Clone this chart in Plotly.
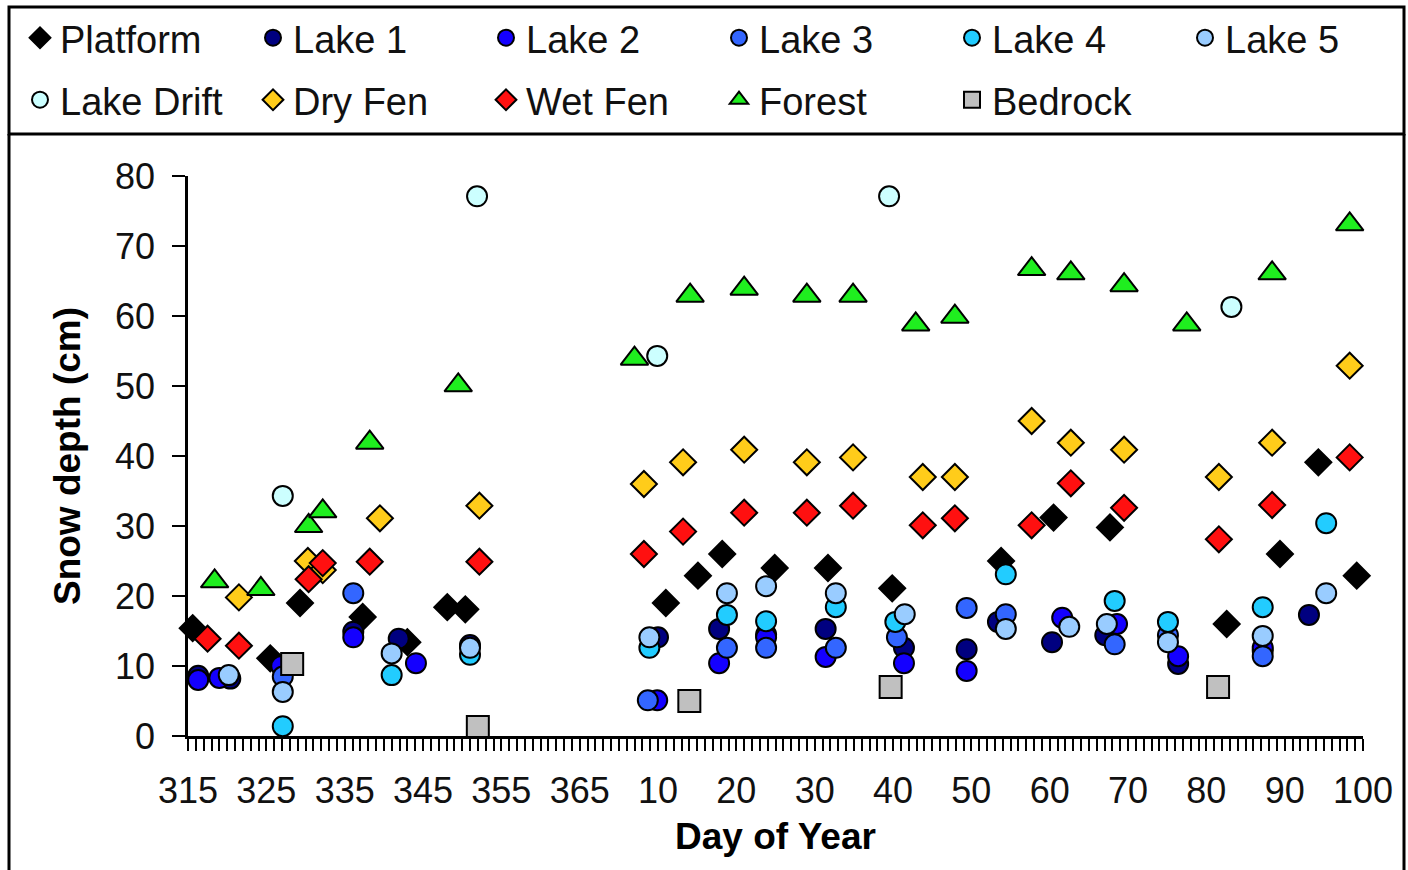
import plotly.graph_objects as go

# Day numbers run continuously across the new year: 366 = day 1 of the next year.
platform_x = [315.6, 325.5, 329.3, 337.3, 343.0, 348.1, 350.4, 376.0, 380.1, 383.2, 389.9, 396.7,
              404.9, 418.8, 425.5, 432.7, 447.6, 454.4, 459.3, 464.2]
platform_y = [15.4, 11.1, 19.0, 17.0, 13.4, 18.4, 18.1, 19.0, 22.9, 26.0, 24.0, 24.0,
              21.1, 25.0, 31.2, 29.8, 16.0, 26.0, 39.1, 22.9]

lake1_x = [316.3, 320.4, 326.9, 336.1, 341.9, 351.0, 375.0, 382.8, 388.8, 396.4, 406.4, 414.4,
           418.4, 425.3, 432.1, 441.4, 452.2, 458.1]
lake1_y = [8.6, 8.2, 10.2, 14.9, 13.9, 13.0, 14.1, 15.3, 14.5, 15.3, 12.6, 12.4,
           16.3, 13.4, 14.4, 10.3, 12.2, 17.3]

lake2_x = [316.3, 319.0, 326.9, 336.1, 344.1, 374.9, 382.8, 388.8, 396.4, 406.4, 414.4, 426.6,
           433.6, 441.4, 452.2]
lake2_y = [8.0, 8.3, 10.0, 14.1, 10.4, 5.1, 10.4, 14.1, 11.3, 10.4, 9.3, 16.9,
           16.0, 11.4, 12.6]

lake3_x = [327.1, 336.1, 373.7, 383.8, 388.8, 397.7, 405.5, 414.4, 419.4, 433.3, 440.1, 452.2]
lake3_y = [8.5, 20.4, 5.1, 12.6, 12.6, 12.6, 14.1, 18.3, 17.4, 13.1, 14.4, 11.4]

lake4_x = [327.1, 341.0, 351.0, 373.9, 383.8, 388.8, 397.7, 405.3, 419.4, 433.3, 440.1, 452.2, 460.3]
lake4_y = [1.4, 8.7, 11.6, 12.6, 17.3, 16.4, 18.4, 16.3, 23.1, 19.3, 16.3, 18.4, 30.4]

lake5_x = [320.2, 327.1, 341.0, 351.0, 373.9, 383.8, 388.8, 397.7, 406.5, 419.4, 427.5, 432.3,
           440.1, 452.2, 460.3]
lake5_y = [8.7, 6.3, 11.8, 12.6, 14.1, 20.4, 21.4, 20.4, 17.4, 15.3, 15.6, 16.0,
           13.4, 14.3, 20.4]

drift_x = [327.1, 351.9, 374.9, 404.5, 448.2]
drift_y = [34.3, 77.1, 54.3, 77.1, 61.3]

dryfen_x = [321.5, 330.3, 332.2, 339.5, 352.2, 373.2, 378.2, 386.0, 394.0, 399.9, 408.8, 412.9,
            422.7, 427.7, 434.5, 446.6, 453.4, 463.3]
dryfen_y = [19.8, 25.0, 23.7, 31.1, 32.9, 36.0, 39.1, 40.9, 39.1, 39.8, 37.0, 37.0,
            45.0, 41.9, 40.9, 37.0, 41.9, 52.9]

wetfen_x = [317.5, 321.5, 330.4, 332.2, 338.2, 352.2, 373.2, 378.2, 386.0, 394.0, 399.9, 408.8,
            412.9, 422.7, 427.7, 434.5, 446.6, 453.4, 463.3]
wetfen_y = [13.9, 12.9, 22.4, 24.7, 24.9, 24.9, 26.0, 29.2, 31.9, 31.9, 32.9, 30.1,
            31.1, 30.1, 36.1, 32.6, 28.1, 33.0, 39.8]

forest_x = [318.4, 324.3, 330.4, 332.2, 338.2, 349.5, 372.0, 379.1, 386.0, 394.0, 399.9, 407.9,
            412.9, 422.7, 427.7, 434.5, 442.5, 453.4, 463.3]
forest_y = [22.1, 21.0, 30.0, 32.1, 41.9, 50.1, 53.9, 62.9, 63.9, 62.9, 62.9, 58.8,
            59.9, 66.7, 66.1, 64.4, 58.8, 66.1, 73.1]

bedrock_x = [328.3, 352.0, 379.0, 404.7, 446.5]
bedrock_y = [10.3, 1.3, 5.0, 7.0, 7.0]

tick_vals = [315, 325, 335, 345, 355, 365, 375, 385, 395, 405, 415, 425, 435, 445, 455, 465]
tick_text = ["315", "325", "335", "345", "355", "365", "10", "20", "30", "40", "50", "60",
             "70", "80", "90", "100"]

FONT = "Liberation Sans, Arial, sans-serif"

series = [
    ("Platform", platform_x, platform_y, "diamond", "#000000", 20, "legend"),
    ("Lake 1", lake1_x, lake1_y, "circle", "#000080", 20, "legend"),
    ("Lake 2", lake2_x, lake2_y, "circle", "#1400FF", 20, "legend"),
    ("Lake 3", lake3_x, lake3_y, "circle", "#3366FF", 20, "legend"),
    ("Lake 4", lake4_x, lake4_y, "circle", "#22CCFF", 20, "legend"),
    ("Lake 5", lake5_x, lake5_y, "circle", "#99CCFF", 20, "legend"),
    ("Lake Drift", drift_x, drift_y, "circle", "#CCFFFF", 20, "legend2"),
    ("Dry Fen", dryfen_x, dryfen_y, "diamond", "#FFCC1A", 20, "legend2"),
    ("Wet Fen", wetfen_x, wetfen_y, "diamond", "#FF1010", 20, "legend2"),
    ("Forest", forest_x, forest_y, "triangle-up", "#1FEE1F", 24, "legend2"),
    ("Bedrock", bedrock_x, bedrock_y, "square", "#C0C0C0", 22, "legend2"),
]

fig = go.Figure()
for name, xs, ys, sym, col, size, leg in series:
    kw = {}
    if name == "Lake 5":
        kw["legendwidth"] = 130
    fig.add_trace(go.Scatter(
        x=xs, y=ys, mode="markers", name=name, legend=leg, cliponaxis=False,
        marker=dict(symbol=sym, size=size, color=col, line=dict(color="#000000", width=2)),
        **kw,
    ))

W, H = 1408, 870
PL, PR, PT, PB = 188, 1363, 176, 736   # plot area in page pixels
L, T, R, B = PL, PT, W - PR, H - PB
PW, PH = PR - PL, PB - PT

def px(xpage):
    return (xpage - PL) / PW

def py(ypage):
    return (PB - ypage) / PH

legend_common = dict(
    orientation="h", xanchor="left", yanchor="middle",
    font=dict(family=FONT, size=38, color="#111111"),
    entrywidth=188, entrywidthmode="pixels",
    bgcolor="rgba(0,0,0,0)", borderwidth=0, itemsizing="trace",
    tracegroupgap=0,
)

fig.update_layout(
    width=W, height=H,
    margin=dict(l=L, r=R, t=T, b=B, autoexpand=False),
    paper_bgcolor="white", plot_bgcolor="white",
    showlegend=True,
    legend=dict(x=px(20), y=py(38), **legend_common),
    legend2=dict(x=px(20), y=py(100), **legend_common),
    xaxis=dict(
        range=[315, 465], showgrid=False, zeroline=False,
        showline=True, linecolor="#000000", linewidth=2.5,
        tickmode="array", tickvals=tick_vals, ticktext=tick_text,
        ticks="outside", ticklen=12, tickwidth=2, tickcolor="#000000",
        ticklabelstandoff=9,
        minor=dict(tickmode="linear", tick0=315, dtick=1, ticks="outside",
                   ticklen=12, tickwidth=2, tickcolor="#000000", showgrid=False),
        tickfont=dict(family=FONT, size=36, color="#111111"),
        title=dict(text="<b>Day of Year</b>", font=dict(family=FONT, size=37, color="#000000"),
                   standoff=14),
        automargin=False,
    ),
    yaxis=dict(
        range=[0, 80], showgrid=False, zeroline=False,
        showline=True, linecolor="#000000", linewidth=2.5,
        tickmode="linear", tick0=0, dtick=10,
        ticks="outside", ticklen=13, tickwidth=2, tickcolor="#000000",
        ticklabelstandoff=10,
        tickfont=dict(family=FONT, size=36, color="#111111"),
        title=dict(text="<b>Snow depth (cm)</b>", font=dict(family=FONT, size=37, color="#000000"),
                   standoff=24),
        automargin=False,
    ),
    shapes=[
        dict(type="rect", xref="paper", yref="paper", x0=px(9), x1=px(1404), y0=py(134), y1=py(7),
             line=dict(color="#000000", width=3), fillcolor="rgba(0,0,0,0)", layer="below"),
        dict(type="line", xref="paper", yref="paper", x0=px(9), x1=px(9), y0=py(134), y1=py(900),
             line=dict(color="#000000", width=3)),
        dict(type="line", xref="paper", yref="paper", x0=px(1404), x1=px(1404), y0=py(134), y1=py(900),
             line=dict(color="#000000", width=3)),
    ],
)

fig.write_html(
    "out.html",
    config={"displayModeBar": False},
    post_script="document.body.style.margin='0px';document.body.style.overflow='hidden';",
)
